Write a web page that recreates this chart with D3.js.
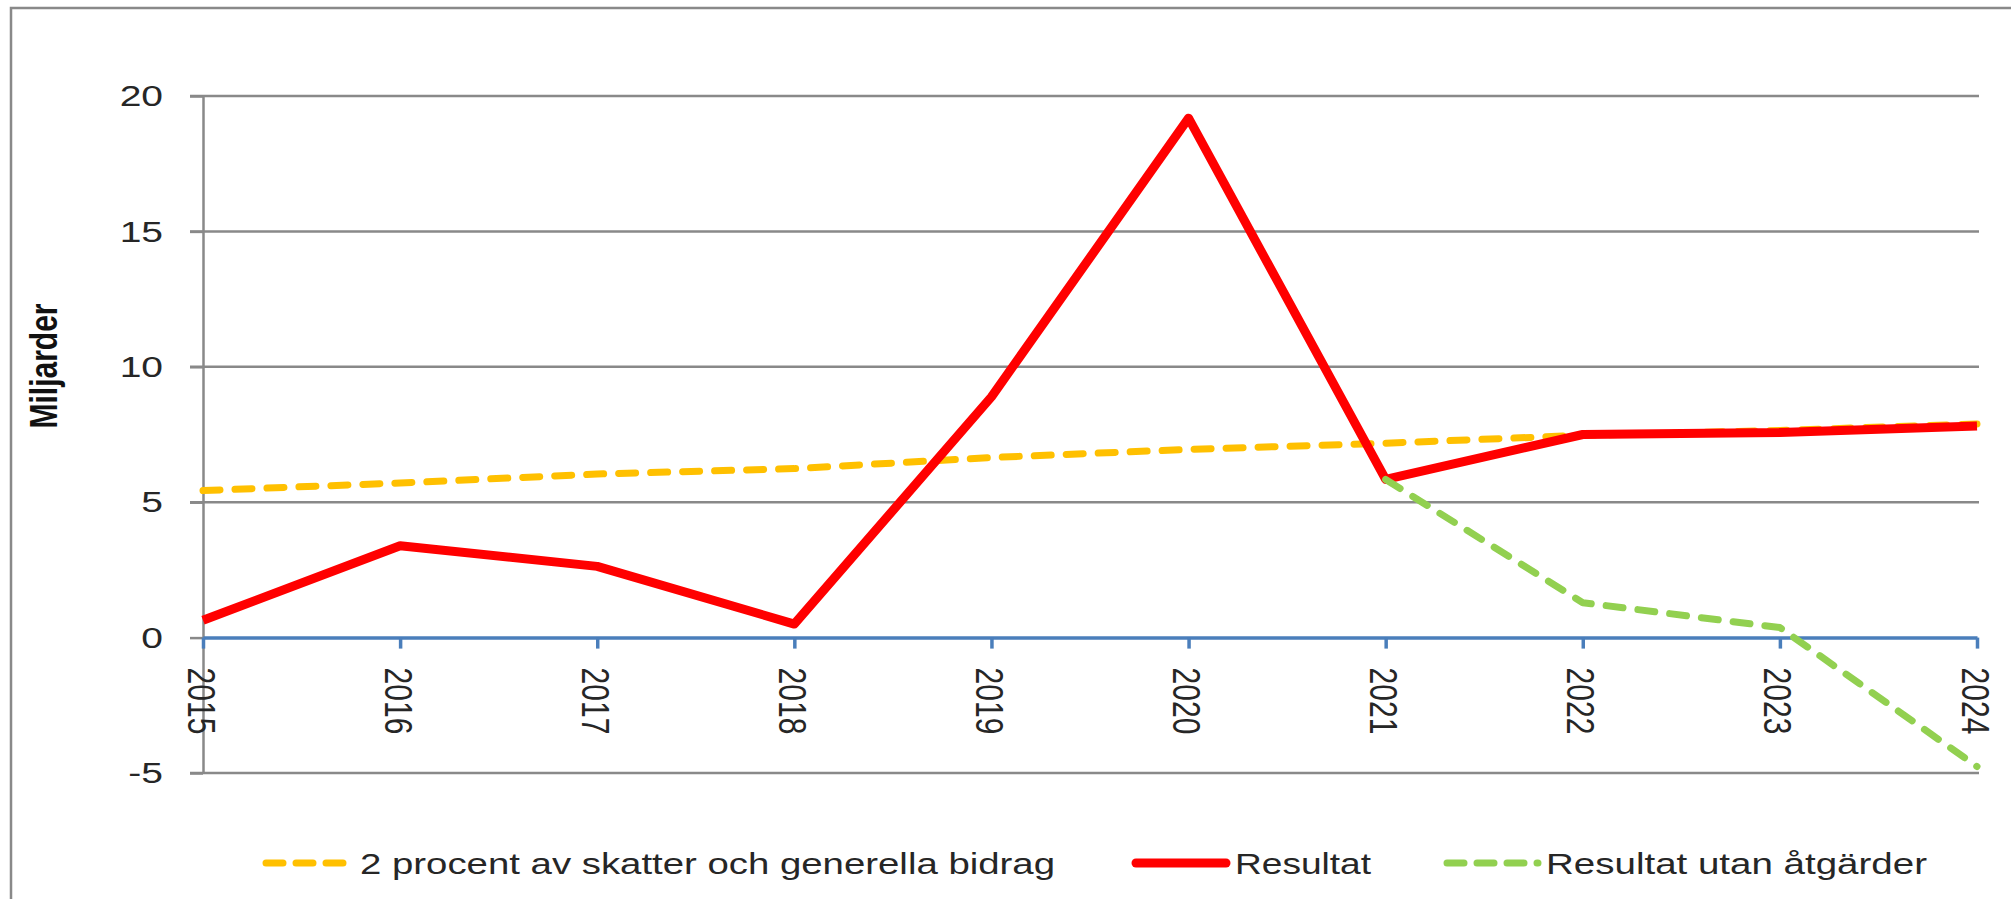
<!DOCTYPE html>
<html>
<head>
<meta charset="utf-8">
<script src="https://cdn.jsdelivr.net/npm/d3@7"></script>
<style>
  body { margin: 0; background: #fff; }
  svg { display: block; font-family: "Liberation Sans", Arial, sans-serif; }
</style>
</head>
<body>
<svg id="chart"></svg>
<script>
// Data (billions SEK)
const YEARS = ['2015', '2016', '2017', '2018', '2019', '2020', '2021', '2022', '2023', '2024'];
const TARGET = [5.43, 5.71, 6.04, 6.24, 6.65, 6.95, 7.18, 7.47, 7.65, 7.89];
const RESULT = [0.64, 3.39, 2.63, 0.50, 8.89, 19.18, 5.84, 7.50, 7.57, 7.81];
const NO_ACTION = [null, null, null, null, null, null, 5.84, 1.29, 0.37, -4.76];
const Y_TICKS = [-5, 0, 5, 10, 15, 20];
const LEGEND = ['2 procent av skatter och generella bidrag', 'Resultat', 'Resultat utan åtgärder'];

// Layout
const W = 2011, H = 899;
const plot = {left: 203, right: 1977, top: 96, bottom: 773};
const STRETCH = 1.3;   // the source text is drawn wider than normal
const gray = '#898989';
const textColor = '#262626';

const svg = d3.select('#chart').attr('width', W).attr('height', H);

svg.append('rect').attr('width', W).attr('height', H).attr('fill', '#fff');
// outer frame (runs off the right and bottom edges)
svg.append('rect')
  .attr('x', 11).attr('y', 8)
  .attr('width', W + 50).attr('height', H + 50)
  .attr('fill', 'none').attr('stroke', gray).attr('stroke-width', 2.5);

const x = d3.scalePoint(YEARS, [plot.left, plot.right]);
const y = d3.scaleLinear([-5, 20], [plot.bottom, plot.top]);

// gridlines (zero line is drawn by the x axis)
svg.append('g')
  .selectAll('line')
  .data(Y_TICKS.filter(d => d !== 0)).enter()
  .append('line')
    .attr('x1', plot.left - 13).attr('x2', plot.right + 2)
    .attr('y1', d => y(d)).attr('y2', d => y(d))
    .attr('stroke', gray).attr('stroke-width', 2.5);

// y axis
const yAxis = svg.append('g')
  .attr('transform', `translate(${plot.left},0)`)
  .call(d3.axisLeft(y).tickValues(Y_TICKS).tickFormat(d => String(d))
    .tickSize(13).tickPadding(40 / STRETCH - 13).tickSizeOuter(0));
yAxis.select('.domain').attr('stroke', gray).attr('stroke-width', 2.5);
yAxis.selectAll('.tick line').attr('stroke', gray).attr('stroke-width', 2.5);
yAxis.selectAll('.tick text')
  .attr('font-size', 30)
  .attr('font-family', '"Liberation Sans", Arial, sans-serif')
  .attr('fill', textColor)
  .attr('transform', `scale(${STRETCH},1)`);

svg.append('text')
  .text('Miljarder')
  .attr('font-size', 30)
  .attr('font-weight', 'bold')
  .attr('fill', '#111')
  .attr('text-anchor', 'middle')
  .attr('transform', `translate(57,366) scale(${STRETCH},1) rotate(-90)`);

// x axis on the zero line
const xAxis = svg.append('g')
  .attr('transform', `translate(0,${y(0)})`)
  .call(d3.axisBottom(x).tickSize(11).tickSizeOuter(0).tickFormat(''));
xAxis.select('.domain').attr('stroke', '#4a7ebb').attr('stroke-width', 3.5);
xAxis.selectAll('.tick line').attr('stroke', '#4a7ebb').attr('stroke-width', 3.5);

svg.append('g')
  .selectAll('text')
  .data(YEARS).enter()
  .append('text')
    .text(d => d)
    .attr('font-size', 30)
    .attr('fill', textColor)
    .attr('dominant-baseline', 'central')
    .attr('transform', d => `translate(${x(d) - 2},${y(0) + 30}) scale(${STRETCH},1) rotate(90)`);

// series
const line = d3.line()
  .defined(d => d[1] !== null)
  .x(d => x(d[0]))
  .y(d => y(d[1]));

const SERIES = [
  {values: TARGET, color: '#ffc000', width: 7, dash: '17,15'},
  {values: RESULT, color: '#ff0000', width: 9, dash: null},
  {values: NO_ACTION, color: '#92d050', width: 7, dash: '17,15'}
];

SERIES.forEach(s => {
  svg.append('path')
    .datum(YEARS.map((yr, i) => [yr, s.values[i]]))
    .attr('fill', 'none')
    .attr('stroke', s.color)
    .attr('stroke-width', s.width)
    .attr('stroke-linejoin', 'round')
    .attr('stroke-linecap', s.dash ? 'round' : 'butt')
    .attr('stroke-dasharray', s.dash)
    .attr('d', line);
});

// legend
const legendY = 863;
const legendItems = [
  {sym: [266, 343], tx: 360, len: 695},
  {sym: [1136, 1226], tx: 1235, len: 136},
  {sym: [1447, 1538], tx: 1546, len: 381}
];
legendItems.forEach((it, i) => {
  const s = SERIES[i];
  svg.append('line')
    .attr('x1', it.sym[0]).attr('x2', it.sym[1])
    .attr('y1', legendY).attr('y2', legendY)
    .attr('stroke', s.color)
    .attr('stroke-width', s.dash ? 7 : 9)
    .attr('stroke-linecap', 'round')
    .attr('stroke-dasharray', s.dash ? '17,13' : null);
  svg.append('text')
    .text(LEGEND[i])
    .attr('x', it.tx).attr('y', legendY)
    .attr('dy', '0.35em')
    .attr('font-size', 30)
    .attr('fill', textColor)
    .attr('textLength', it.len)
    .attr('lengthAdjust', 'spacingAndGlyphs');
});
</script>
</body>
</html>
